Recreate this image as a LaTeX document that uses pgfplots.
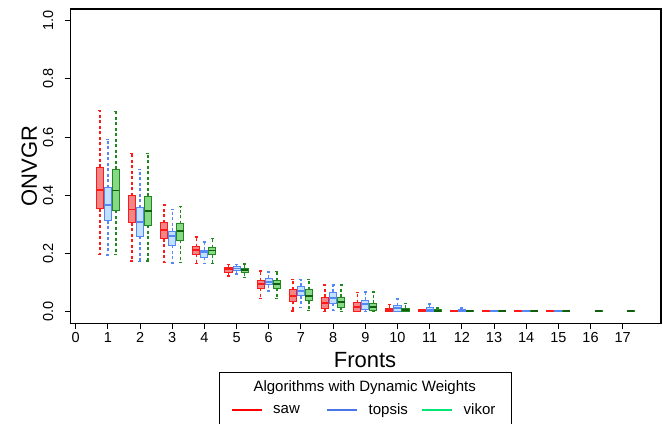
\documentclass[border=0pt]{standalone}
\usepackage{fontspec}
\setmainfont{Liberation Sans}
\usepackage{pgfplots}
\pgfplotsset{compat=1.18}
\usepgfplotslibrary{statistics}
\definecolor{sawB}{HTML}{FF1A1A}
\definecolor{sawF}{HTML}{F28585}
\definecolor{topB}{HTML}{5588F5}
\definecolor{topF}{HTML}{C2E0FF}
\definecolor{vikB}{HTML}{1E8A1E}
\definecolor{vikF}{HTML}{88D888}
\definecolor{vikM}{HTML}{0F5F0F}
\definecolor{legS}{HTML}{FF0000}
\definecolor{legT}{HTML}{4A74E8}
\definecolor{legV}{HTML}{00E676}
\pgfplotsset{
  bsaw/.style={draw=sawB, fill=sawF, line width=1pt,
    boxplot/every median/.style={draw=sawB, line width=1.8pt},
    boxplot/every whisker/.style={draw=sawB, line width=1.4pt, dash pattern=on 3pt off 2.5pt}},
  btop/.style={draw=topB, fill=topF, line width=1pt,
    boxplot/every median/.style={draw=topB, line width=1.8pt},
    boxplot/every whisker/.style={draw=topB, line width=1.4pt, dash pattern=on 3pt off 2.5pt}},
  bvik/.style={draw=vikB, fill=vikF, line width=1pt,
    boxplot/every median/.style={draw=vikM, line width=1.8pt},
    boxplot/every whisker/.style={draw=vikB, line width=1.4pt, dash pattern=on 3pt off 2.5pt}},
}
% #1 style, #2 position, #3 lower whisker, #4 Q1, #5 median, #6 Q3, #7 upper whisker
\newcommand{\bp}[7]{\addplot[#1, forget plot, boxplot prepared={draw direction=y, draw position=#2, lower whisker=#3, lower quartile=#4, median=#5, upper quartile=#6, upper whisker=#7, box extend=0.22, whisker extend=0.1}] coordinates {};}
\begin{document}
\begin{tikzpicture}
\useasboundingbox (0pt,0pt) rectangle (663pt,423pt);
\begin{axis}[
  at={(70.7pt,99.7pt)}, anchor=south west,
  scale only axis, width=590.3pt, height=314.3pt,
  xmin=-0.155, xmax=18.19, ymin=-0.04, ymax=1.04,
  boxplot/draw direction=y,
  xtick={0,1,...,17},
  ytick={0,0.2,0.4,0.6,0.8,1.0},
  yticklabels={0.0,0.2,0.4,0.6,0.8,1.0},
  /pgf/number format/assume math mode=true,
  tick label style={font=\fontsize{14.5}{16}\selectfont},
  yticklabel style={rotate=90, anchor=south},
  yticklabel shift=8pt,
  xtick pos=bottom, ytick pos=left,
  tick align=outside, major tick length=6pt,
  major tick style={line width=0.9pt, black},
  axis line style={line width=1.2pt},
  xlabel={Fronts}, ylabel={ONVGR},
  label style={font=\fontsize{22}{24}\selectfont},
  xlabel style={at={(axis description cs:0.4986,0)}, anchor=base, yshift=-43.7pt},
  ylabel style={at={(axis description cs:-0.0571,0.5)}, anchor=base},
  legend columns=3,
  legend image code/.code={\draw[line width=2.8pt] (0pt,0pt) -- (30pt,0pt);},
  legend style={draw=none, fill=none, font=\fontsize{15}{17}\selectfont,
    at={(axis description cs:0.4967,-0.276)}, anchor=center,
    /tikz/column 1/.style={column sep=8pt},
    /tikz/column 3/.style={column sep=8pt},
    /tikz/column 5/.style={column sep=8pt},
    /tikz/column 2/.style={column sep=24pt},
    /tikz/column 4/.style={column sep=11pt}},
]
\addlegendimage{legS}\addlegendentry{saw}
\addlegendimage{legT}\addlegendentry{topsis}
\addlegendimage{legV}\addlegendentry{vikor}
% saw
\bp{bsaw}{0.75}{0.197}{0.354}{0.419}{0.496}{0.691}
\bp{bsaw}{1.75}{0.174}{0.305}{0.351}{0.399}{0.544}
\bp{bsaw}{2.75}{0.168}{0.251}{0.281}{0.306}{0.367}
\bp{bsaw}{3.75}{0.166}{0.198}{0.212}{0.223}{0.256}
\bp{bsaw}{4.75}{0.122}{0.136}{0.146}{0.153}{0.162}
\bp{bsaw}{5.75}{0.046}{0.081}{0.095}{0.107}{0.140}
\bp{bsaw}{6.75}{0.002}{0.036}{0.055}{0.075}{0.111}
\bp{bsaw}{7.75}{0.000}{0.012}{0.031}{0.049}{0.091}
\bp{bsaw}{8.75}{0.000}{0.002}{0.015}{0.030}{0.065}
\bp{bsaw}{9.75}{0.000}{0.001}{0.006}{0.012}{0.025}
\bp{bsaw}{10.75}{0.000}{0.000}{0.002}{0.006}{0.008}
\bp{bsaw}{11.75}{0.000}{0.000}{0.0015}{0.003}{0.003}
\bp{bsaw}{12.75}{0.000}{0.000}{0.0015}{0.003}{0.003}
\bp{bsaw}{13.75}{0.000}{0.000}{0.0015}{0.003}{0.003}
\bp{bsaw}{14.75}{0.000}{0.000}{0.0015}{0.003}{0.003}
% topsis
\bp{btop}{1}{0.195}{0.312}{0.367}{0.426}{0.592}
\bp{btop}{2}{0.173}{0.259}{0.308}{0.357}{0.488}
\bp{btop}{3}{0.167}{0.228}{0.259}{0.277}{0.352}
\bp{btop}{4}{0.165}{0.187}{0.204}{0.211}{0.240}
\bp{btop}{5}{0.129}{0.141}{0.148}{0.155}{0.162}
\bp{btop}{6}{0.071}{0.092}{0.103}{0.115}{0.136}
\bp{btop}{7}{0.015}{0.055}{0.071}{0.088}{0.111}
\bp{btop}{8}{0.003}{0.029}{0.048}{0.067}{0.091}
\bp{btop}{9}{0.000}{0.009}{0.026}{0.040}{0.067}
\bp{btop}{10}{0.000}{0.002}{0.012}{0.021}{0.044}
\bp{btop}{11}{0.000}{0.001}{0.006}{0.013}{0.027}
\bp{btop}{12}{0.000}{0.000}{0.003}{0.006}{0.012}
\bp{btop}{13}{0.000}{0.000}{0.0015}{0.003}{0.003}
\bp{btop}{14}{0.000}{0.000}{0.0015}{0.003}{0.003}
\bp{btop}{15}{0.000}{0.000}{0.0015}{0.003}{0.003}
% vikor
\bp{bvik}{1.25}{0.197}{0.349}{0.416}{0.490}{0.687}
\bp{bvik}{2.25}{0.174}{0.297}{0.345}{0.397}{0.544}
\bp{bvik}{3.25}{0.168}{0.246}{0.277}{0.302}{0.361}
\bp{bvik}{4.25}{0.165}{0.196}{0.210}{0.219}{0.251}
\bp{bvik}{5.25}{0.118}{0.134}{0.143}{0.150}{0.164}
\bp{bvik}{6.25}{0.046}{0.081}{0.094}{0.107}{0.139}
\bp{bvik}{7.25}{0.003}{0.038}{0.055}{0.075}{0.111}
\bp{bvik}{8.25}{0.000}{0.015}{0.032}{0.049}{0.091}
\bp{bvik}{9.25}{0.000}{0.003}{0.017}{0.029}{0.067}
\bp{bvik}{10.25}{0.000}{0.001}{0.006}{0.012}{0.029}
\bp{bvik}{11.25}{0.000}{0.000}{0.002}{0.006}{0.012}
\bp{bvik}{12.25}{0.000}{0.000}{0.0015}{0.003}{0.003}
\bp{bvik}{13.25}{0.000}{0.000}{0.0015}{0.003}{0.003}
\bp{bvik}{14.25}{0.000}{0.000}{0.0015}{0.003}{0.003}
\bp{bvik}{15.25}{0.000}{0.000}{0.0015}{0.003}{0.003}
\bp{bvik}{16.25}{0.000}{0.000}{0.0015}{0.003}{0.003}
\bp{bvik}{17.25}{0.000}{0.000}{0.0015}{0.003}{0.003}
\end{axis}
\draw[line width=0.8pt] (219.3pt,-20pt) rectangle (511.7pt,50.3pt);
\node[font=\fontsize{15}{17}\selectfont, anchor=base, inner sep=0pt] at (364.7pt,31.3pt) {Algorithms with Dynamic Weights};
\end{tikzpicture}
\end{document}
